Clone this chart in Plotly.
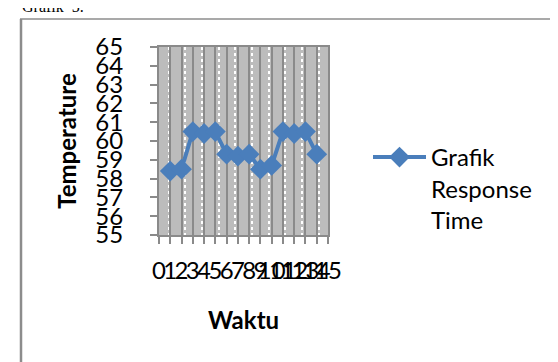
import plotly.graph_objects as go

# Data
waktu = [1, 2, 3, 4, 5, 6, 7, 8, 9, 10, 11, 12, 13, 14]
temperature = [58.4, 58.5, 60.5, 60.4, 60.5, 59.3, 59.2, 59.3, 58.5, 58.7, 60.5, 60.4, 60.5, 59.3]
x_ticks = list(range(0, 16))
y_ticks = list(range(55, 66))
series_name = "Grafik<br>Response<br>Time"

W, H = 558, 362
L, R, T, B = 151, 320, 39, 227  # plot area in px


def px(xp):
    return (xp - L) / (R - L)


def py(yp):
    return (B - yp) / (B - T)


FONT = "Lato"
FS = 24
BLUE = "#4a7ebb"
GRID = "#8a8a8a"

fig = go.Figure()
fig.add_trace(go.Scatter(
    x=waktu, y=temperature, mode="lines+markers", name=series_name,
    line=dict(color=BLUE, width=4),
    marker=dict(symbol="diamond", size=16, color=BLUE),
))

fig.update_layout(
    width=W, height=H,
    margin=dict(l=L, r=W - R, t=T, b=H - B),
    paper_bgcolor="white", plot_bgcolor="#bcbcbc",
    font=dict(family=FONT, size=FS, color="black"),
    showlegend=True,
    legend=dict(x=px(360), y=py(127), xanchor="left", yanchor="top",
                valign="top", itemwidth=53, font=dict(size=FS),
                bgcolor="rgba(0,0,0,0)"),
    xaxis=dict(
        range=[0, 15], tickmode="array", tickvals=x_ticks,
        ticktext=[str(v) for v in x_ticks],
        ticks="outside", ticklen=7, tickcolor=GRID, tickwidth=1.5,
        showline=True, linecolor=GRID, linewidth=2, mirror=True,
        showgrid=True, gridcolor=GRID, gridwidth=1.5,
        zeroline=False, tickangle=0, ticklabelstandoff=6,
        minor=dict(tick0=0.86, dtick=1.48, showgrid=True, gridcolor="white",
                   griddash="dot", gridwidth=1.5, ticks=""),
        title=dict(text="<b>Waktu</b>", font=dict(size=FS), standoff=29),
    ),
    yaxis=dict(
        range=[55, 65], tickmode="array", tickvals=y_ticks,
        ticks="outside", ticklen=7, tickcolor=GRID, tickwidth=1.5,
        showline=True, linecolor=GRID, linewidth=2, mirror=True,
        showgrid=False, zeroline=False, ticklabelstandoff=22,
        title=dict(text="<b>Temperature</b>", font=dict(size=FS), standoff=12),
    ),
    shapes=[
        dict(type="line", xref="paper", yref="paper", x0=px(13), x1=px(13),
             y0=py(11), y1=py(362), line=dict(color="#8c8c8c", width=2.5)),
        dict(type="line", xref="paper", yref="paper", x0=px(12), x1=px(560),
             y0=py(11), y1=py(11), line=dict(color="#8c8c8c", width=1.5)),
    ],
    annotations=[
        dict(text="Grafik  5.", xref="paper", yref="paper", x=px(12), y=py(9),
             xanchor="left", yanchor="bottom", showarrow=False,
             font=dict(family="Liberation Serif", size=16, color="black")),
    ],
)

fig.write_html("out.html")
